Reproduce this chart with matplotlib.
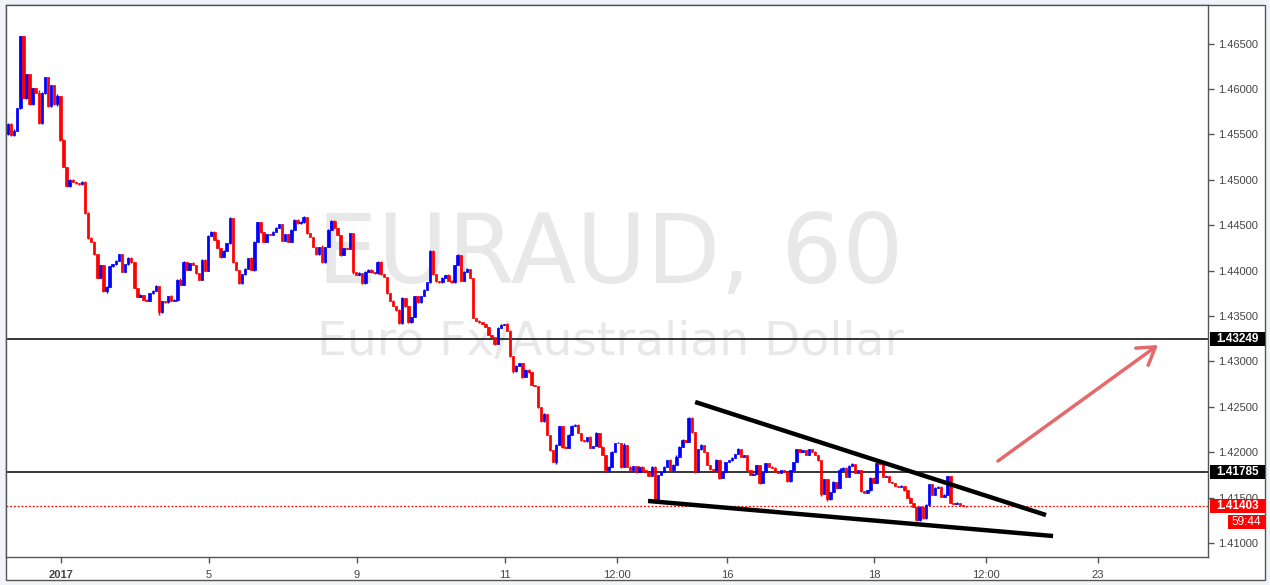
import numpy as np
import matplotlib
matplotlib.use("Agg")
import matplotlib.pyplot as plt
from matplotlib.patches import Rectangle
import matplotlib.transforms as mtransforms

# hourly EURAUD closes (first open 1.4550)
open0 = 1.4550
closes = [
    1.4561, 1.4549, 1.4554, 1.4579, 1.4658, 1.4590, 1.4616, 1.4583, 1.4601, 1.4596,
    1.4562, 1.4596, 1.4613, 1.4581, 1.4604, 1.4583, 1.4592, 1.4544, 1.4514, 1.4493,
    1.4500, 1.4498, 1.4496, 1.4495, 1.4498, 1.4463, 1.4436, 1.4432, 1.4418, 1.4392,
    1.4406, 1.4377, 1.4382, 1.4405, 1.4407, 1.4411, 1.4418, 1.4399, 1.4407, 1.4414,
    1.4409, 1.4381, 1.4371, 1.4373, 1.4368, 1.4367, 1.4375, 1.4378, 1.4383, 1.4354,
    1.4366, 1.4365, 1.4372, 1.4367, 1.4368, 1.4390, 1.4384, 1.4409, 1.4401, 1.4408,
    1.4406, 1.4397, 1.4390, 1.4412, 1.4400, 1.4438, 1.4443, 1.4434, 1.4425, 1.4415,
    1.4422, 1.4430, 1.4458, 1.4409, 1.4401, 1.4386, 1.4396, 1.4402, 1.4414, 1.4401,
    1.4432, 1.4453, 1.4442, 1.4432, 1.4440, 1.4439, 1.4443, 1.4447, 1.4451, 1.4433,
    1.4440, 1.4432, 1.4445, 1.4456, 1.4452, 1.4453, 1.4459, 1.4441, 1.4437, 1.4426,
    1.4418, 1.4426, 1.4409, 1.4426, 1.4445, 1.4455, 1.4447, 1.4439, 1.4417, 1.4425,
    1.4424, 1.4441, 1.4398, 1.4395, 1.4397, 1.4386, 1.4399, 1.4401, 1.4398, 1.4397,
    1.4410, 1.4396, 1.4393, 1.4375, 1.4367, 1.4361, 1.4357, 1.4342, 1.4370, 1.4361,
    1.4343, 1.4349, 1.4372, 1.4365, 1.4372, 1.4379, 1.4387, 1.4422, 1.4396, 1.4388,
    1.4387, 1.4392, 1.4395, 1.4389, 1.4387, 1.4406, 1.4417, 1.4389, 1.4399, 1.4402,
    1.4392, 1.4348, 1.4345, 1.4343, 1.4341, 1.4338, 1.4329, 1.4327, 1.4319, 1.4337,
    1.4340, 1.4341, 1.4334, 1.4306, 1.4289, 1.4295, 1.4298, 1.4283, 1.4291, 1.4288,
    1.4274, 1.4273, 1.4250, 1.4234, 1.4242, 1.4219, 1.4202, 1.4189, 1.4208, 1.4229,
    1.4206, 1.4205, 1.4219, 1.4229, 1.4230, 1.4221, 1.4213, 1.4212, 1.4217, 1.4205,
    1.4207, 1.4221, 1.4206, 1.4197, 1.4180, 1.4184, 1.4200, 1.4210, 1.4210, 1.4184,
    1.4208, 1.4184, 1.4180, 1.4185, 1.4178, 1.4184, 1.4180, 1.4178, 1.4174, 1.4184,
    1.4145, 1.4175, 1.4178, 1.4184, 1.4191, 1.4180, 1.4186, 1.4195, 1.4206, 1.4213,
    1.4211, 1.4238, 1.4222, 1.4178, 1.4203, 1.4208, 1.4200, 1.4186, 1.4181, 1.4180,
    1.4191, 1.4172, 1.4178, 1.4189, 1.4191, 1.4194, 1.4198, 1.4203, 1.4195, 1.4197,
    1.4180, 1.4175, 1.4176, 1.4186, 1.4166, 1.4178, 1.4188, 1.4184, 1.4183, 1.4178,
    1.4177, 1.4180, 1.4178, 1.4168, 1.4180, 1.4189, 1.4203, 1.4200, 1.4202, 1.4197,
    1.4203, 1.4200, 1.4197, 1.4191, 1.4154, 1.4170, 1.4148, 1.4156, 1.4167, 1.4161,
    1.4180, 1.4183, 1.4173, 1.4185, 1.4187, 1.4177, 1.4180, 1.4157, 1.4155, 1.4158,
    1.4172, 1.4166, 1.4188, 1.4187, 1.4173, 1.4174, 1.4167, 1.4166, 1.4163, 1.4162,
    1.4163, 1.4158, 1.4150, 1.4144, 1.4140, 1.4125, 1.4140, 1.4127, 1.4142, 1.4165,
    1.4153, 1.4161, 1.4162, 1.4151, 1.4153, 1.4174, 1.4144, 1.4143, 1.4144, 1.4142,
    1.4141, 1.41403,
]

# wick lengths above / below the body, in pips
wick_up = [
    1.0, 2.0, 1.7, 0.5, 0.2, 0.8, 0.3, 0.4, 0.6, 0.6,
    3.2, 0.9, 0.2, 0.5, 0.3, 0.3, 2.3, 0.4, 1.1, 0.5,
    0.6, 0.6, 0.1, 0.3, 1.2, 0.5, 1.5, 1.5, 1.1, 0.3,
    0.5, 0.6, 1.4, 0.5, 0.4, 1.0, 0.3, 0.3, 0.2, 1.0,
    0.9, 0.3, 0.2, 1.7, 0.3, 0.4, 0.8, 0.5, 1.1, 0.3,
    0.4, 0.6, 0.4, 1.6, 0.2, 0.4, 2.3, 1.2, 0.5, 0.3,
    1.1, 0.2, 0.3, 1.0, 0.3, 0.7, 0.4, 1.1, 0.3, 0.3,
    0.3, 0.8, 0.5, 0.4, 0.3, 0.2, 0.4, 1.3, 0.3, 1.3,
    0.3, 0.9, 0.3, 0.2, 0.3, 0.4, 1.0, 0.7, 0.5, 0.6,
    0.3, 0.6, 0.3, 0.3, 0.5, 1.5, 1.1, 0.3, 0.2, 0.4,
    0.3, 0.5, 1.9, 0.5, 0.4, 0.8, 0.8, 0.3, 0.3, 0.4,
    0.3, 0.6, 0.3, 0.3, 1.2, 0.2, 0.5, 0.4, 0.3, 0.3,
    0.6, 0.8, 0.3, 0.4, 0.2, 0.3, 0.4, 0.3, 0.6, 0.3,
    0.3, 0.3, 0.5, 0.3, 0.4, 0.6, 0.3, 0.5, 0.4, 0.3,
    0.8, 0.6, 0.4, 1.0, 0.3, 0.4, 1.2, 0.4, 0.3, 0.5,
    0.3, 0.3, 0.3, 0.4, 0.3, 0.2, 0.3, 0.3, 0.2, 0.9,
    1.0, 0.5, 1.1, 0.3, 0.3, 1.0, 0.6, 0.3, 0.5, 0.3,
    0.6, 0.3, 0.2, 0.3, 1.2, 0.3, 0.2, 0.3, 1.0, 0.4,
    0.2, 0.3, 0.7, 0.9, 0.6, 1.2, 0.2, 0.3, 0.3, 0.5,
    0.3, 0.8, 0.2, 0.3, 0.3, 0.5, 0.9, 0.5, 0.9, 0.3,
    1.6, 0.4, 0.3, 0.3, 0.2, 0.3, 0.6, 0.3, 0.4, 0.8,
    0.3, 0.2, 0.4, 0.3, 0.7, 1.2, 0.5, 1.5, 0.6, 1.5,
    0.5, 0.3, 1.2, 0.3, 0.4, 1.1, 0.3, 0.2, 0.3, 0.2,
    1.5, 0.3, 0.4, 0.3, 0.6, 0.3, 0.5, 1.2, 0.4, 0.3,
    0.3, 0.3, 1.0, 0.4, 0.3, 0.6, 0.5, 0.3, 0.3, 0.3,
    0.5, 0.3, 0.3, 0.5, 0.4, 0.4, 0.5, 0.3, 0.5, 0.3,
    0.3, 0.4, 1.2, 0.3, 0.3, 0.6, 0.3, 0.4, 1.3, 0.4,
    2.2, 1.2, 0.3, 0.4, 1.6, 0.3, 0.3, 0.3, 0.4, 0.6,
    0.3, 0.6, 0.4, 0.3, 0.3, 0.3, 0.3, 0.4, 0.3, 0.2,
    0.4, 0.3, 0.3, 0.3, 0.2, 0.3, 0.5, 0.3, 1.2, 0.4,
    0.4, 0.3, 0.4, 0.3, 0.5, 0.3, 0.3, 0.3, 0.9, 0.4,
    0.2, 0.2,
]
wick_dn = [
    0.5, 0.3, 0.4, 0.3, 0.5, 0.3, 0.5, 0.3, 0.4, 0.5,
    0.8, 0.4, 1.0, 0.3, 0.4, 0.3, 1.7, 1.5, 0.3, 0.4,
    0.4, 0.3, 0.3, 0.3, 1.2, 1.0, 1.6, 0.3, 0.3, 0.3,
    0.5, 0.3, 2.0, 0.3, 0.5, 0.3, 0.3, 0.4, 0.3, 0.3,
    0.3, 0.3, 0.3, 0.3, 0.3, 0.3, 0.4, 0.3, 0.3, 2.9,
    0.3, 0.5, 0.3, 0.4, 0.3, 1.1, 0.3, 0.3, 0.4, 0.3,
    0.3, 0.3, 0.3, 0.3, 0.6, 0.3, 0.3, 0.3, 0.3, 0.7,
    0.3, 0.3, 0.3, 0.3, 0.4, 0.3, 0.3, 0.3, 0.3, 0.3,
    1.9, 0.3, 0.3, 0.4, 0.5, 0.3, 0.3, 0.3, 0.3, 0.3,
    0.6, 0.5, 0.3, 0.3, 0.3, 0.3, 0.3, 0.3, 0.3, 0.3,
    0.3, 0.3, 1.0, 0.3, 0.3, 0.3, 0.3, 0.3, 0.5, 0.3,
    0.4, 0.3, 1.4, 0.3, 0.3, 0.5, 0.3, 0.3, 0.3, 0.3,
    0.3, 0.4, 0.3, 0.3, 0.8, 0.3, 1.3, 0.7, 0.3, 0.6,
    0.5, 0.3, 0.3, 0.3, 0.3, 0.3, 0.3, 0.3, 0.6, 0.3,
    0.3, 0.3, 0.3, 0.3, 0.3, 0.3, 0.3, 0.8, 0.3, 0.3,
    0.4, 0.3, 0.5, 0.3, 0.3, 0.3, 0.3, 0.3, 0.4, 0.3,
    0.3, 0.3, 0.3, 0.8, 1.7, 0.3, 0.3, 1.0, 0.3, 0.3,
    0.3, 0.3, 0.8, 0.3, 0.3, 0.3, 0.4, 0.3, 1.5, 0.3,
    1.0, 0.3, 0.3, 0.3, 0.3, 0.3, 0.3, 0.3, 0.3, 0.6,
    0.3, 0.3, 0.5, 0.3, 2.2, 1.6, 0.3, 0.3, 0.3, 1.2,
    0.3, 0.3, 0.6, 0.3, 0.6, 0.3, 0.3, 0.3, 0.3, 0.3,
    0.2, 0.3, 0.3, 0.3, 0.3, 0.8, 0.3, 0.3, 0.3, 0.3,
    0.3, 0.3, 0.3, 0.4, 0.3, 0.3, 0.3, 0.3, 0.3, 0.3,
    0.9, 1.0, 0.3, 0.3, 0.3, 0.3, 0.3, 0.3, 0.3, 0.3,
    0.5, 0.3, 0.3, 0.3, 0.5, 0.3, 0.3, 0.3, 0.6, 0.3,
    0.3, 0.3, 0.3, 0.5, 0.3, 0.3, 0.3, 0.3, 0.3, 0.3,
    0.3, 0.3, 0.3, 0.3, 1.7, 0.3, 1.8, 0.3, 0.3, 1.0,
    0.3, 0.3, 0.8, 0.3, 0.3, 0.3, 0.3, 0.3, 0.4, 0.3,
    0.3, 0.3, 0.3, 0.3, 0.3, 0.3, 0.3, 0.3, 0.3, 0.3,
    0.3, 0.3, 0.3, 0.3, 0.3, 1.1, 0.3, 0.7, 0.3, 0.3,
    0.3, 0.3, 0.3, 0.3, 0.3, 0.3, 0.3, 0.3, 0.5, 0.3,
    0.3, 0.2,
]

# horizontal levels and last price
levels = [1.43249, 1.41785]
last_price = 1.41403
countdown = "59:44"

# drawn pattern (bar index, price)
upper_line = [(223.1, 1.42553), (337.0, 1.41308)]
lower_line = [(207.8, 1.41463), (339.3, 1.41077)]
arrow_from = (321.4, 1.41903)
arrow_to = (373.4, 1.43181)

# x tick labels at bar positions
xtick_pos = [17.2, 65.3, 113.3, 161.4, 197.7, 233.4, 281.2, 317.5, 353.9]
xtick_lab = ["2017", "5", "9", "11", "12:00", "16", "18", "12:00", "23"]
yticks = [1.410, 1.415, 1.420, 1.425, 1.430, 1.435, 1.440, 1.445, 1.450, 1.455, 1.460, 1.465]

UP = "#0000ff"
DN = "#ff0000"

close = np.array(closes)
opn = np.r_[open0, close[:-1]]
pip = 0.0001
hi = np.maximum(opn, close) + np.array(wick_up) * pip
lo = np.minimum(opn, close) - np.array(wick_dn) * pip
idx = np.arange(len(close))
cols = np.where(close >= opn, UP, DN)

plt.rcParams['font.family'] = ['Liberation Sans', 'DejaVu Sans']

W, H = 1270, 585
fig = plt.figure(figsize=(W / 100, H / 100), dpi=100, facecolor="#f0f3f8")

# white panel with frame around the chart and scales
panel = Rectangle((6 / W, 1 - 580 / H), 1259 / W, 575 / H,
                  transform=fig.transFigure, facecolor="white",
                  edgecolor="#555555", lw=1, zorder=-5)
fig.add_artist(panel)

ax = fig.add_axes([6 / W, (H - 557) / H, 1202 / W, 552 / H])
ax.set_zorder(1)
ax.set_facecolor("white")
for s in ax.spines.values():
    s.set_color("#555555")
    s.set_linewidth(1)

ax.set_xlim(-0.65, 389.6)
ax.set_ylim(1.40846, 1.46925)

# watermark
ax.text(0.503, 0.4964, "EURAUD, 60", transform=ax.transAxes, ha="center", va="baseline",
        fontsize=69, color="#e8e8e8", family="DejaVu Sans", zorder=0)
ax.text(0.503, 0.366, "Euro Fx/Australian Dollar", transform=ax.transAxes, ha="center",
        va="baseline", fontsize=34, color="#e8e8e8", family="DejaVu Sans", zorder=0)

# candles
ax.vlines(idx, lo, hi, colors=cols, lw=1.0, zorder=3)
body_h = np.maximum(np.abs(close - opn), 0.00002)
ax.bar(idx, body_h, bottom=np.minimum(opn, close), width=0.8, color=cols,
       edgecolor=cols, linewidth=0.5, zorder=3)

# levels
for lv in levels:
    ax.axhline(lv, color="black", lw=1.1, zorder=2)
ax.axhline(last_price, color="#ff0000", lw=0.9, ls=(0, (1.5, 1.5)), zorder=2)

# wedge lines
for ln in (upper_line, lower_line):
    ax.plot([p[0] for p in ln], [p[1] for p in ln], color="black", lw=3.2,
            solid_capstyle="butt", zorder=4)

ax.annotate("", xy=arrow_to, xytext=arrow_from,
            arrowprops=dict(arrowstyle="->,head_length=0.6,head_width=0.38",
                            color="#e5696b", lw=2.5, mutation_scale=20,
                            shrinkA=0, shrinkB=0), zorder=4)

# axes ticks
ax.yaxis.tick_right()
ax.set_yticks(yticks)
ax.set_yticklabels([f"{v:.5f}" for v in yticks])
ax.set_xticks(xtick_pos)
ax.set_xticklabels(xtick_lab)
ax.tick_params(axis="both", direction="out", length=4, width=1, color="#555555",
               labelcolor="#444444", labelsize=8)
ax.tick_params(axis="y", pad=3)
ax.tick_params(axis="x", pad=5)
ax.get_xticklabels()[0].set_fontweight("bold")

# price tags on the right scale
tr = mtransforms.blended_transform_factory(ax.transAxes, ax.transData)
x0 = (1210 - 6) / 1202
bw = (1265 - 1210) / 1202
bh = 14 / 9080
for lv in levels:
    ax.add_patch(Rectangle((x0, lv - bh / 2), bw, bh, transform=tr, facecolor="black",
                           edgecolor="none", clip_on=False, zorder=6))
    ax.text(x0 + bw / 2, lv, f"{lv:.5f}", transform=tr, ha="center", va="center",
            color="white", fontsize=8.5, fontweight="bold", clip_on=False, zorder=7)
ax.add_patch(Rectangle((x0, last_price - bh / 2), bw, bh, transform=tr, facecolor="#ff0000",
                       edgecolor="none", clip_on=False, zorder=6))
ax.text(x0 + bw / 2, last_price, f"{last_price:.5f}", transform=tr, ha="center",
        va="center", color="white", fontsize=8.5, fontweight="bold", clip_on=False, zorder=7)
cx0 = (1228 - 6) / 1202
cw = (1265 - 1228) / 1202
cy = last_price - 16 / 9080
ax.add_patch(Rectangle((cx0, cy - bh / 2), cw, bh, transform=tr, facecolor="#ff0000",
                       edgecolor="none", clip_on=False, zorder=6))
ax.text(cx0 + cw / 2, cy, countdown, transform=tr, ha="center", va="center",
        color="white", fontsize=8.5, clip_on=False, zorder=7)

fig.savefig("out.png", dpi=100, facecolor=fig.get_facecolor())
